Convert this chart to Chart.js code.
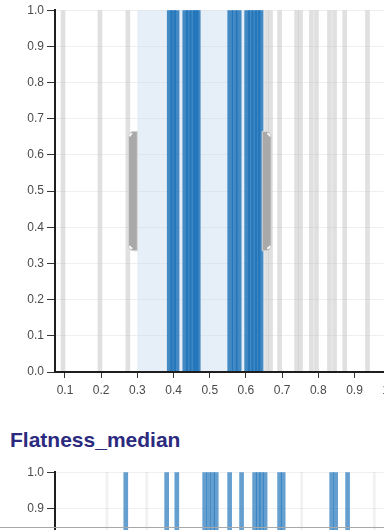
<!DOCTYPE html>
<html>
<head>
<meta charset="utf-8">
<script src="https://cdn.jsdelivr.net/npm/chart.js@4.4.1/dist/chart.umd.min.js"></script>
<style>
  html, body { margin: 0; padding: 0; background: #fff; overflow: hidden; width: 384px; height: 530px; }
  #c1 { position: absolute; left: 0; top: 0; }
  #c2 { position: absolute; left: 0; top: 462px; }
  #title2 {
    position: absolute; left: 10px; top: 428px;
    font: bold 21px "Liberation Sans", Arial, sans-serif; color: #2b2a7e;
  }
  #rule { position: absolute; left: 0; top: 527px; width: 384px; height: 1px; background: #a8a8a8; }
</style>
</head>
<body>
<canvas id="c1" width="404" height="402"></canvas>
<div id="title2">Flatness_median</div>
<canvas id="c2" width="404" height="402"></canvas>
<div id="rule"></div>
<script>
// Value axis ticks (both panels)
const yTicks = [0.0, 0.1, 0.2, 0.3, 0.4, 0.5, 0.6, 0.7, 0.8, 0.9, 1.0];
const xTicks = [0.1, 0.2, 0.3, 0.4, 0.5, 0.6, 0.7, 0.8, 0.9, 1.0];
const xDomain = [0.0724, 1.0];

// Upper panel: records inside the brushed range (blue) and outside it (grey)
const selectedValues = [0.3895, 0.399, 0.4083, 0.4324, 0.4421, 0.4517, 0.4614, 0.4669,
                        0.5566, 0.569, 0.580, 0.6034, 0.6131, 0.6228, 0.6324, 0.6407];
const unselectedValues = [0.0945, 0.1966, 0.2738, 0.657, 0.668, 0.693, 0.740, 0.751,
                          0.781, 0.795, 0.831, 0.845, 0.873, 0.936];
// Brushed interval on the upper panel and its handle span
const brushExtent = [0.300, 0.645];
const handleSpan = [0.335, 0.665];

// Lower panel: Flatness_median
const flatnessValues = [0.268, 0.381, 0.409, 0.486, 0.497, 0.508, 0.518, 0.555, 0.588,
                        0.624, 0.634, 0.643, 0.653, 0.693, 0.703, 0.837, 0.848, 0.881];
const flatnessFaint = [0.216, 0.326, 0.754, 0.955];

const BLUE = 'rgba(32,116,186,0.82)';
const BLUE2 = 'rgba(40,122,190,0.72)';
const GREY = 'rgba(190,190,190,0.48)';
const TICK_FONT = { family: '"Liberation Sans", Arial, sans-serif', size: 12 };

const toPoints = vals => vals.map(v => ({ x: v, y: 1 }));

function rugDataset(vals, color, width) {
  return {
    data: toPoints(vals),
    backgroundColor: color,
    borderWidth: 0,
    barThickness: width,
    grouped: false
  };
}

// Brush background + resize handles
const brushPlugin = {
  id: 'brush',
  beforeDatasetsDraw(chart) {
    const { ctx, chartArea, scales } = chart;
    const x0 = scales.x.getPixelForValue(brushExtent[0]);
    const x1 = scales.x.getPixelForValue(brushExtent[1]);
    ctx.save();
    ctx.fillStyle = 'rgba(200,218,240,0.45)';
    ctx.fillRect(x0, chartArea.top, x1 - x0, chartArea.bottom - chartArea.top);
    ctx.restore();
  },
  afterDatasetsDraw(chart) {
    const { ctx, scales } = chart;
    const yTop = scales.y.getPixelForValue(handleSpan[1]);
    const yBot = scales.y.getPixelForValue(handleSpan[0]);
    const w = 9, r = 5;
    brushExtent.forEach((v, i) => {
      const edge = scales.x.getPixelForValue(v);
      const dir = i === 0 ? -1 : 1;
      const inner = edge;
      const outer = edge + dir * w;
      ctx.save();
      ctx.beginPath();
      ctx.moveTo(inner, yTop);
      ctx.lineTo(outer - dir * r, yTop);
      ctx.arcTo(outer, yTop, outer, yTop + r, r);
      ctx.lineTo(outer, yBot - r);
      ctx.arcTo(outer, yBot, outer - dir * r, yBot, r);
      ctx.lineTo(inner, yBot);
      ctx.closePath();
      ctx.fillStyle = '#a9a9a9';
      ctx.fill();
      ctx.lineWidth = 1;
      ctx.strokeStyle = '#d8d8d8';
      ctx.stroke();
      // white corner marks at the handle ends
      ctx.strokeStyle = '#ffffff';
      ctx.lineWidth = 1.6;
      ctx.beginPath();
      ctx.arc(outer - dir * 4, yTop + 5, 2.6, dir < 0 ? Math.PI : 1.5 * Math.PI, dir < 0 ? 1.5 * Math.PI : 2 * Math.PI);
      ctx.stroke();
      ctx.beginPath();
      ctx.arc(outer - dir * 4, yBot - 5, 2.6, dir < 0 ? 0.5 * Math.PI : 0, dir < 0 ? Math.PI : 0.5 * Math.PI);
      ctx.stroke();
      ctx.restore();
    });
  }
};

function yScale() {
  return {
    type: 'linear', min: 0, max: 1,
    afterBuildTicks: s => { s.ticks = yTicks.map(v => ({ value: v })); },
    afterFit: s => { s.width = 55; },
    ticks: { font: TICK_FONT, color: '#4a4a4a', padding: 3, callback: v => v.toFixed(1) },
    grid: { color: '#efefef', tickColor: '#333', tickLength: 8, lineWidth: 1 },
    border: { color: '#1e1e1e', width: 2, z: 1 }
  };
}

const chart1 = new Chart(document.getElementById('c1'), {
  type: 'bar',
  data: {
    datasets: [
      rugDataset(unselectedValues, GREY, 4),
      rugDataset(selectedValues, BLUE, 5)
    ]
  },
  options: {
    responsive: false,
    animation: false,
    layout: { padding: { top: 8, left: 0, right: 0, bottom: 0 } },
    plugins: { legend: { display: false }, tooltip: { enabled: false } },
    scales: {
      x: {
        type: 'linear', min: xDomain[0], max: xDomain[1], offset: false,
        afterBuildTicks: s => { s.ticks = xTicks.map(v => ({ value: v })); },
        afterFit: s => { s.height = 30; },
        ticks: { font: TICK_FONT, color: '#4a4a4a', padding: 5, maxRotation: 0, callback: v => v.toFixed(1) },
        grid: { offset: false, color: 'rgba(0,0,0,0)', tickColor: '#333', tickLength: 6 },
        border: { color: '#1e1e1e', width: 2, z: 1 }
      },
      y: yScale()
    }
  },
  plugins: [brushPlugin]
});

const rightPad = 404 - chart1.chartArea.right;

new Chart(document.getElementById('c2'), {
  type: 'bar',
  data: {
    datasets: [
      rugDataset(flatnessFaint, 'rgba(200,200,200,0.25)', 2),
      rugDataset(flatnessValues, BLUE2, 4)
    ]
  },
  options: {
    responsive: false,
    animation: false,
    layout: { padding: { top: 8, left: 0, right: rightPad, bottom: 30 } },
    plugins: { legend: { display: false }, tooltip: { enabled: false } },
    scales: {
      x: { type: 'linear', display: false, min: xDomain[0], max: xDomain[1], offset: false, grid: { offset: false } },
      y: yScale()
    }
  }
});
</script>
</body>
</html>
